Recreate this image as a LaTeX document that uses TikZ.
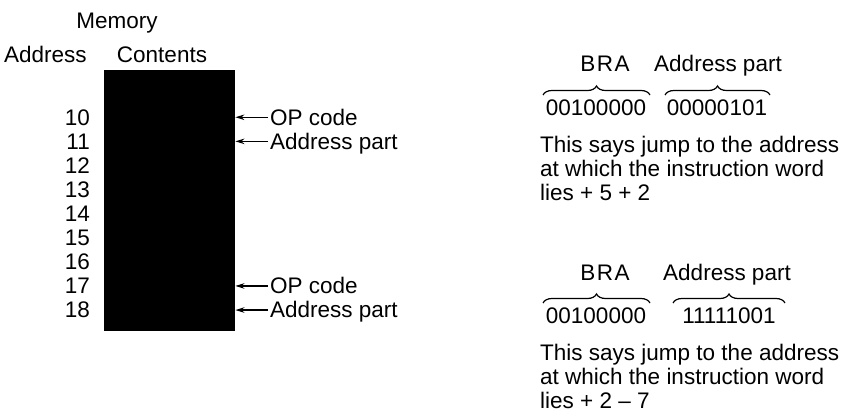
\documentclass[tikz,border=0pt]{standalone}
\usepackage{fontspec}
\setmainfont{Liberation Sans}
\usetikzlibrary{decorations.pathreplacing,arrows.meta}
\begin{document}
\begin{tikzpicture}[x=1pt,y=-1pt,
  txt/.style={font=\fontsize{22.5}{24}\selectfont, inner sep=0pt},
  num/.style={txt, anchor=base east},
  lbl/.style={txt, anchor=base west},
  ctr/.style={txt, anchor=base},
  ptr/.style={line width=1.4pt, -{Stealth[length=9pt,width=5.5pt]}},
  brc/.style={decorate, decoration={brace, amplitude=9pt}, line width=1.2pt},
]
\useasboundingbox (0,0) rectangle (850,417);
% left: memory map
\node[ctr] (mem) at (117,29) {Memory};
\node[lbl] (addr) at (4,63) {Address};
\node[ctr] (cont) at (162,63) {Contents};
\node[fill=black, minimum width=131pt, minimum height=261pt, inner sep=0pt, anchor=north west] (box) at (104,70) {};
\foreach \n [count=\i from 0] in {10,...,18}
  \node[num] (a\n) at (90,125+24.1*\i) {\n};
\node[lbl] (op1) at (270,125) {OP code};
\node[lbl] (ap1) at (270,149.1) {Address part};
\node[lbl] (op2) at (270,293.7) {OP code};
\node[lbl] (ap2) at (270,317.8) {Address part};
\draw[ptr] ([xshift=-2pt]op1.west |- a10) -- (box.east |- a10);
\draw[ptr] ([xshift=-2pt]ap1.west |- a11) -- (box.east |- a11);
\draw[ptr] ([xshift=-2pt]op2.west |- a17) -- (box.east |- a17);
\draw[ptr] ([xshift=-2pt]ap2.west |- a18) -- (box.east |- a18);
% right: first example
\node[ctr] (bra1) at (605,72) {B\kern1.5pt R\kern1.5pt A};
\node[ctr] (adp1) at (718,72) {Address part};
\node[ctr] (c1) at (596,115) {00100000};
\node[ctr] (d1) at (717,115) {00000101};
\coordinate (b1l) at (543,95); \coordinate (b1r) at (650,95);
\coordinate (b2l) at (665,95); \coordinate (b2r) at (770,95);
\draw[brc] (b1l) -- (b1r);
\draw[brc] (b2l) -- (b2r);
\node[lbl] (t1) at (540,152) {This says jump to the address};
\node[lbl] (t2) at (540,176) {at which the instruction word};
\node[lbl] (t3) at (540,200) {lies + 5 + 2};
% right: second example
\node[ctr] (bra2) at (605,280) {B\kern1.5pt R\kern1.5pt A};
\node[ctr] (adp2) at (727,280) {Address part};
\node[ctr] (c2) at (596,323) {00100000};
\node[ctr] (d2) at (729,323) {11111001};
\coordinate (b3l) at (543,303); \coordinate (b3r) at (650,303);
\coordinate (b4l) at (673,303); \coordinate (b4r) at (785,303);
\draw[brc] (b3l) -- (b3r);
\draw[brc] (b4l) -- (b4r);
\node[lbl] (t4) at (540,360) {This says jump to the address};
\node[lbl] (t5) at (540,384) {at which the instruction word};
\node[lbl] (t6) at (540,408) {lies + 2 – 7};
\end{tikzpicture}
\end{document}
